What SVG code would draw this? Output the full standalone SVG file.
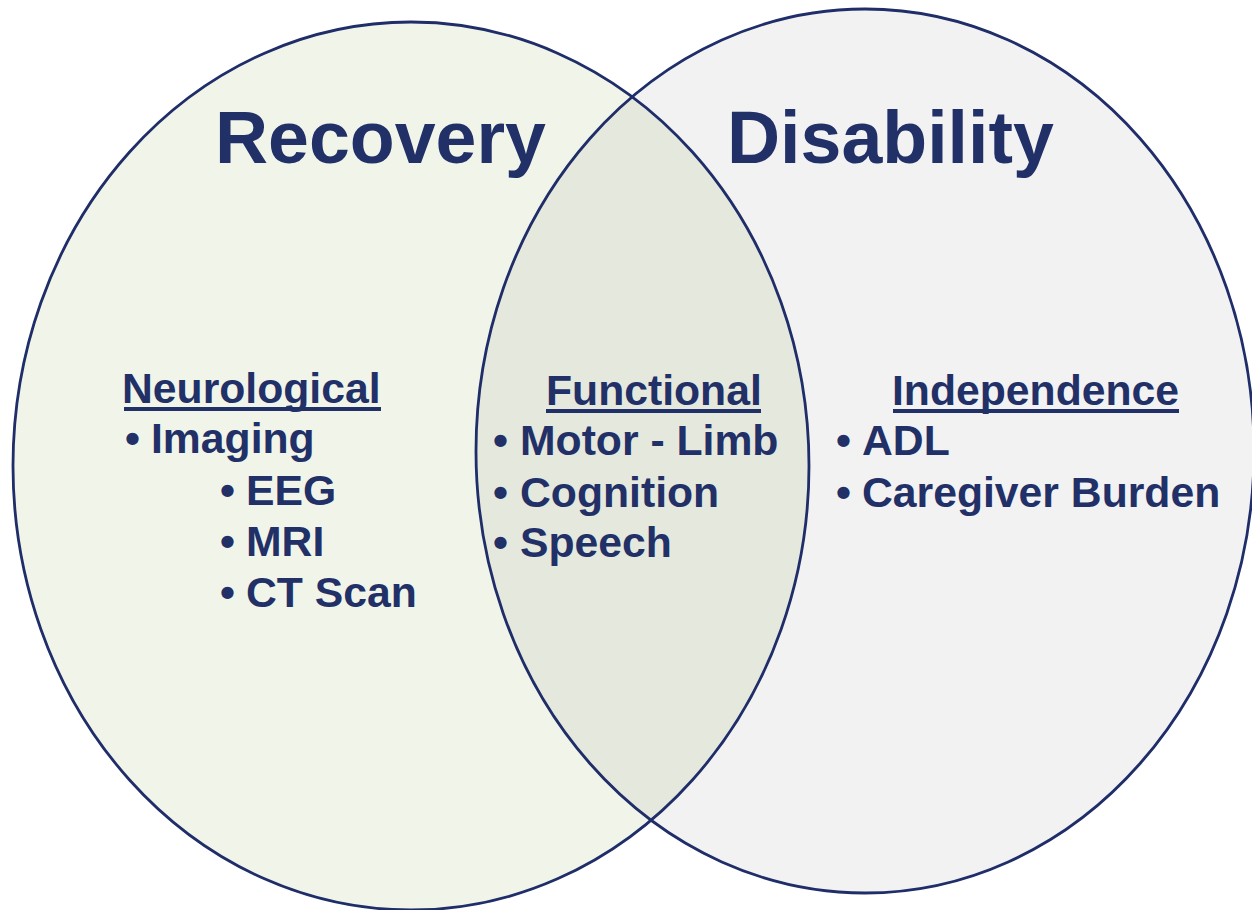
<svg xmlns="http://www.w3.org/2000/svg" width="1252" height="910" viewBox="0 0 1252 910">
  <style>
    .t { font-family: "Liberation Sans", Arial, sans-serif; font-weight: bold; fill: #223068; }
    .title { font-size: 73.5px; }
    .item { font-size: 42.7px; }
    .ul { fill: #223068; }
    .outline { fill: none; stroke: #1F2D69; stroke-width: 2.8; }
  </style>
  <defs>
    <clipPath id="clipLeft">
      <ellipse cx="411" cy="466" rx="398" ry="444"/>
    </clipPath>
  </defs>
  <rect x="0" y="0" width="1252" height="910" fill="#FFFFFF"/>
  <g id="circle-recovery">
    <ellipse cx="411" cy="466" rx="398" ry="444" fill="#F1F5E9"/>
  </g>
  <g id="circle-disability">
    <ellipse cx="865" cy="451" rx="389" ry="442" fill="#F2F2F2"/>
  </g>
  <g id="overlap">
    <ellipse cx="865" cy="451" rx="389" ry="442" fill="#E5E8DC" clip-path="url(#clipLeft)"/>
  </g>
  <g id="outlines">
    <ellipse class="outline" cx="411" cy="466" rx="398" ry="444"/>
    <ellipse class="outline" cx="865" cy="451" rx="389" ry="442"/>
  </g>
  <g id="titles">
    <text class="t title" x="215" y="163">Recovery</text>
    <text class="t title" x="727" y="163">Disability</text>
  </g>
  <g id="neurological">
    <text class="t item" x="122" y="403">Neurological</text>
    <rect class="ul" x="124" y="407" width="257" height="4"/>
    <text class="t item" x="125" y="453">•</text>
    <text class="t item" x="151" y="453">Imaging</text>
    <text class="t item" x="220" y="505">•</text>
    <text class="t item" x="246" y="505">EEG</text>
    <text class="t item" x="220" y="556">•</text>
    <text class="t item" x="246" y="556">MRI</text>
    <text class="t item" x="220" y="607">•</text>
    <text class="t item" x="246" y="607">CT Scan</text>
  </g>
  <g id="functional">
    <text class="t item" x="546" y="405">Functional</text>
    <rect class="ul" x="546" y="409" width="215" height="4"/>
    <text class="t item" x="493" y="455">•</text>
    <text class="t item" x="520" y="455">Motor - Limb</text>
    <text class="t item" x="493" y="507">•</text>
    <text class="t item" x="520" y="507">Cognition</text>
    <text class="t item" x="493" y="557">•</text>
    <text class="t item" x="520" y="557">Speech</text>
  </g>
  <g id="independence">
    <text class="t item" x="892" y="405">Independence</text>
    <rect class="ul" x="893" y="409" width="286" height="4"/>
    <text class="t item" x="836" y="455">•</text>
    <text class="t item" x="862" y="455">ADL</text>
    <text class="t item" x="836" y="507">•</text>
    <text class="t item" x="862" y="507">Caregiver Burden</text>
  </g>
</svg>
